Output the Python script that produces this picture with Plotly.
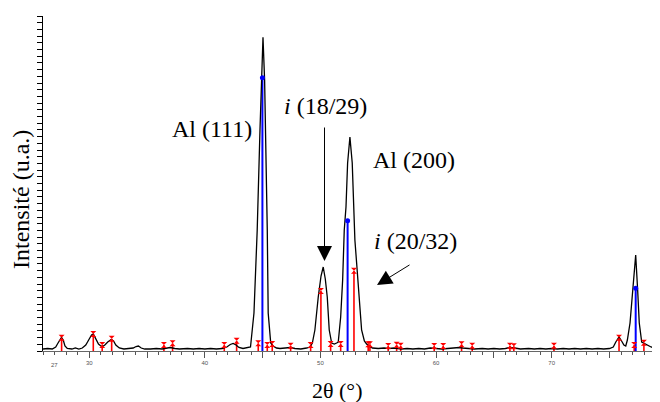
import plotly.graph_objects as go

# --- diffractogram (2θ in degrees, intensity in arbitrary units) ---
two_theta = [26.0, 26.4, 26.8, 27.1, 27.3, 27.5, 27.6, 27.75, 27.9, 28.1, 28.5, 28.8, 29.1, 29.4,
             29.7, 29.95, 30.2, 30.35, 30.55, 30.8, 31.0, 31.15, 31.35, 31.6, 31.9, 32.1, 32.3,
             32.6, 33.0, 33.5, 33.8, 34.05, 34.25, 34.5, 34.8, 35.3, 35.8, 36.3, 36.7, 37.0,
             37.4, 37.8, 38.5, 39.0, 39.5, 40.0, 40.5, 41.0, 41.5, 41.9, 42.2, 42.45, 42.7,
             42.95, 43.3, 43.7, 43.95, 44.25, 44.53, 44.77, 44.91, 45.03, 45.17, 45.26, 45.40,
             45.48, 45.7, 45.9, 46.2, 46.5, 47.0, 47.4, 47.8, 48.3, 48.8, 49.1, 49.3, 49.52,
             49.81, 50.05, 50.24, 50.42, 50.59, 50.76, 50.97, 51.2, 51.40, 51.54, 51.75, 51.92,
             52.06, 52.21, 52.35, 52.55, 52.75, 52.90, 52.98, 53.13, 53.33, 53.56, 53.8, 53.99,
             54.2, 54.5, 55.0, 55.5, 55.9, 56.4, 57.0, 57.5, 58.0, 58.5, 59.0, 59.5, 60.0, 60.5,
             61.0, 61.5, 62.0, 62.3, 62.8, 63.3, 64.0, 64.5, 65.0, 65.5, 66.0, 66.4, 66.8, 67.3,
             68.0, 68.5, 69.0, 69.5, 70.0, 70.5, 71.0, 71.5, 72.0, 72.5, 73.0, 73.5, 74.0, 74.5,
             75.0, 75.33, 75.55, 75.83, 76.05, 76.25, 76.41, 76.55, 76.78, 77.01, 77.27, 77.44,
             77.58, 77.79, 77.95, 78.07, 78.3, 78.6, 78.94, 79.2]
intensity = [2, 2.5, 2, 4, 8, 12, 13.5, 11, 5, 2.5, 2, 3, 2, 3,
             6, 11, 16, 17, 13, 7, 5, 4.5, 6, 9, 11.5, 10, 6,
             3, 2, 2.5, 3, 4.5, 5, 3, 2, 2, 2.5, 2, 3, 3.5,
             2.5, 2, 2.5, 2, 2.5, 2, 2.5, 2, 2.5, 4, 6.5, 7.5, 6,
             3.5, 2.5, 3, 4, 38, 121, 221, 271, 313.7, 271, 221, 121,
             38, 8, 5, 3, 2.5, 3, 3.5, 2.5, 2, 3, 4, 8, 21,
             54, 75, 84, 72, 54, 21, 8, 7, 8, 9, 34, 71,
             121, 144, 188, 214, 188, 144, 111, 88, 54, 21, 10, 7,
             5, 3, 2.5, 3, 2.5, 3, 2, 2.5, 2, 2.5, 2, 3, 2.5, 2,
             2.5, 3, 3.5, 3, 2.5, 2, 2.5, 2, 2.5, 2, 2.5, 3.5, 3, 2,
             2.5, 2, 2.5, 2, 2.5, 2, 2.5, 2, 2.5, 2, 2.5, 2, 2.5, 2,
             2.5, 4, 9, 14, 10, 6, 5, 11, 28, 61, 96, 61,
             28, 9, 8, 8, 6, 4, 3, 2]

# --- reference lines: Al (blue) ---
al_pos = [44.98, 52.35, 77.27]
al_int = [273.3, 130.3, 62.7]

# --- reference lines: icosahedral phase i (red) ---
i_pos = [27.61, 30.35, 31.12, 31.94, 36.46, 37.21, 41.68, 42.75, 44.62, 45.40, 45.83, 47.42,
         49.15, 50.04, 50.88, 51.75, 52.90, 54.13, 54.28, 55.86, 56.59, 56.94, 59.84, 60.62,
         62.21, 63.13, 66.39, 66.73, 70.20, 75.83, 77.14, 77.98, 78.99]
i_int = [13.3, 17, 6, 12.3, 6, 7.7, 6, 10.3, 7.7, 6, 7, 5.3,
         6, 60, 7, 7, 80.3, 6.7, 6.7, 5, 6.3, 5.3, 5, 5,
         6.7, 5.3, 5.3, 4.7, 5.3, 13.3, 6, 8.3, 4.3]

# --- axis ticks ---
x_tickvals = [30, 35, 40, 45, 50, 55, 60, 65, 70, 75]
x_ticktext = ["30", "", "40", "", "50", "", "60", "", "70", ""]
extra_label = "27"
extra_label_pos = 27


def sticks(pos, val):
    xs, ys = [], []
    for p, v in zip(pos, val):
        xs += [p, p, None]
        ys += [0, v, None]
    return xs, ys


fig = go.Figure()

rx, ry = sticks(i_pos, i_int)
fig.add_trace(go.Scatter(x=rx, y=ry, mode="lines", line=dict(color="#ff0000", width=1.6),
                         hoverinfo="skip", showlegend=False))
bx, by = sticks(al_pos, al_int)
fig.add_trace(go.Scatter(x=bx, y=by, mode="lines", line=dict(color="#0000ff", width=2),
                         hoverinfo="skip", showlegend=False))

fig.add_trace(go.Scatter(x=two_theta, y=intensity, mode="lines",
                         line=dict(color="black", width=1.3), showlegend=False))

fig.add_trace(go.Scatter(x=i_pos, y=i_int, mode="markers",
                         marker=dict(symbol="hourglass", size=6, color="#ff0000"),
                         showlegend=False))
fig.add_trace(go.Scatter(x=al_pos, y=al_int, mode="markers",
                         marker=dict(symbol="circle", size=5, color="#0000ff"),
                         showlegend=False))

serif = "Liberation Serif, DejaVu Serif, serif"
sans = "Liberation Sans, Arial, sans-serif"

# the page body has an 8px default margin: size/margins compensate so that the
# plot area lands at x 43..658, y 16..351 of the 660x402 window
fig.update_layout(
    width=652, height=394,
    margin=dict(l=35, r=2, t=8, b=51, autoexpand=False),
    paper_bgcolor="white", plot_bgcolor="white",
    showlegend=False,
    xaxis=dict(range=[26, 79.2], showgrid=False, zeroline=False,
               showline=True, linecolor="#666666", linewidth=1,
               tickmode="array", tickvals=x_tickvals, ticktext=x_ticktext,
               ticks="outside", ticklen=6, tickcolor="#555555", tickwidth=1,
               minor=dict(tickmode="linear", tick0=0, dtick=1, ticks="outside",
                          ticklen=3, tickcolor="#555555", showgrid=False),
               tickfont=dict(family=sans, size=6, color="#555555")),
    yaxis=dict(range=[0, 335], showgrid=False, zeroline=False,
               showline=True, linecolor="black", linewidth=1,
               tickmode="linear", tick0=0, dtick=6.7,
               ticks="outside", ticklen=5, tickcolor="black", tickwidth=1,
               showticklabels=False),
    font=dict(family=serif, color="black"),
)


def px(xw, yw):
    """window pixel position -> paper fraction of the plot area"""
    return (xw - 43) / 615, (351 - yw) / 335


annotations = [
    dict(x=extra_label_pos, y=0, xref="x", yref="y", text=extra_label, showarrow=False,
         yshift=-14, font=dict(family=sans, size=6, color="#555555")),
]
for text, (xw, yw), size, angle in [
    ("2θ (°)", (337, 390), 22, 0),
    ("Intensité (u.a.)", (21, 200), 24, -90),
    ("Al (111)", (211.5, 129), 24, 0),
    ("<i>i</i> (18/29)", (325, 106), 24, 0),
    ("Al (200)", (414, 160), 24, 0),
    ("<i>i</i> (20/32)", (415, 241), 24, 0),
]:
    xp, yp = px(xw, yw)
    annotations.append(dict(x=xp, y=yp, xref="paper", yref="paper", text=text,
                            showarrow=False, textangle=angle,
                            xanchor="center", yanchor="middle",
                            font=dict(family=serif, size=size, color="black")))

# arrows: tip position, tail offset in pixels
for (xw, yw), (ax, ay) in [((324.5, 261), (0, -135)), ((377, 285), (34, -21))]:
    xp, yp = px(xw, yw)
    annotations.append(dict(x=xp, y=yp, xref="paper", yref="paper", ax=ax, ay=ay,
                            text="", showarrow=True, arrowhead=2, arrowsize=3,
                            arrowwidth=1, arrowcolor="black", standoff=0))

fig.update_layout(annotations=annotations)

fig.write_html("out.html")
